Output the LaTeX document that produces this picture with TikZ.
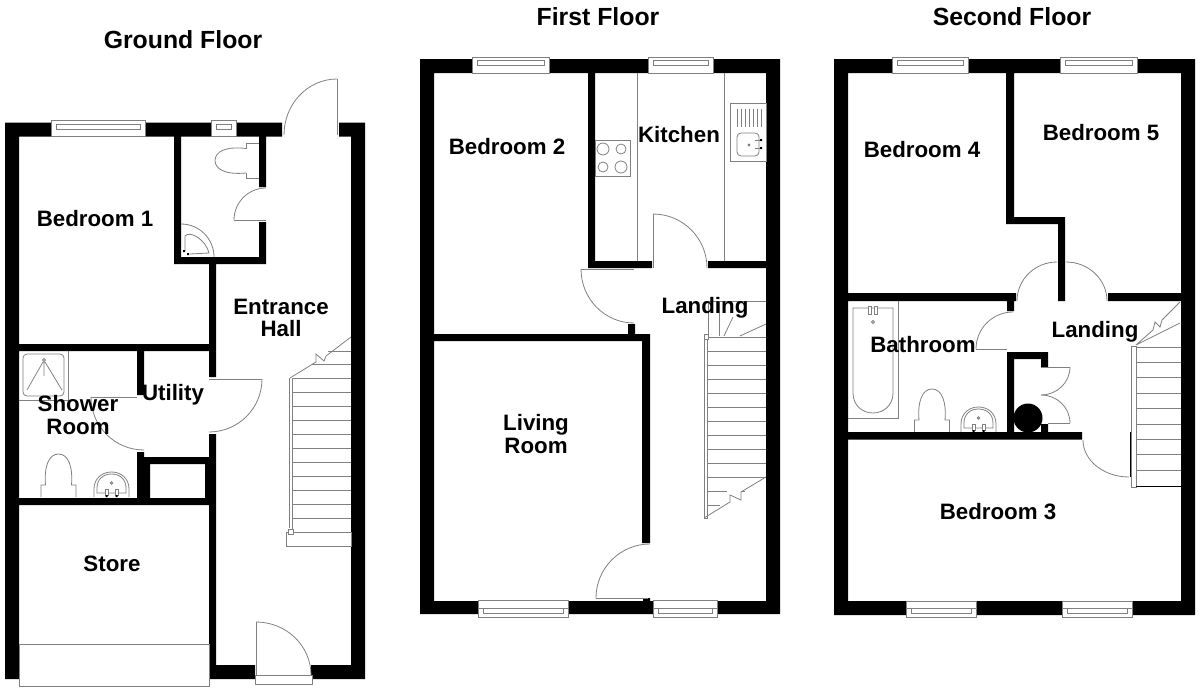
\documentclass[tikz,border=0pt]{standalone}
\usepackage{fontspec}
\setmainfont{Liberation Sans}
\usetikzlibrary{calc}

\tikzset{
  wall/.style={fill=black},
  fixture/.style={draw=black!50,line width=.8pt},
  glazing/.style={draw=black!50,line width=.8pt,fill=white},
  roomname/.style={font=\bfseries\fontsize{22.3}{22.5}\selectfont,align=center,inner sep=0pt},
  floorname/.style={font=\bfseries\fontsize{24.8}{26}\selectfont,inner sep=0pt}
}

\begin{document}
\begin{tikzpicture}[x=1pt,y=-1pt]
\useasboundingbox (0,0) rectangle (1200,688);
\def\swing(#1)(#2)(#3){\draw[fixture] (#1) .. controls ($(#1)!.5523!(#2)$) and ($(#3)!.5523!(#2)$) .. (#3);}
\def\casement#1#2#3#4#5{\draw[glazing] (#1,#3) rectangle (#2,#4);
  \draw[fixture] ($(#1,#5)+(5,0)$) rectangle ($(#2,#5)+(-5,5)$);}
\def\basin{\draw[fixture] (-17.5,0) -- (-17.5,-8) .. controls (-17.5,-19) and (-9,-25) .. (0,-25) .. controls (9,-25) and (17.5,-19) .. (17.5,-8) -- (17.5,0);
  \draw[fixture] (-14.5,-4) -- (-14.5,-9) .. controls (-14.5,-18) and (-8,-23) .. (0,-23) .. controls (8,-23) and (14.5,-18) .. (14.5,-9) -- (14.5,-4) -- cycle;
  \draw[fixture,fill=white] (-6.5,-8) rectangle (-3.5,-2) (3.5,-8) rectangle (6.5,-2);
  \fill (-6,-2) rectangle (-4,0) (4,-2) rectangle (6,0);
  \draw[fixture] (0,-14) circle (1.2);}
\def\closet{\draw[fixture] (-17.5,0) -- (-17.5,-12) -- (-13,-12) .. controls (-14.5,-30) and (-10,-43) .. (0,-43) .. controls (10,-43) and (14.5,-30) .. (13,-12) -- (17.5,-12) -- (17.5,0);}
\def\groundwalls{(5,122.7) rectangle (282,136.7) (339,122.7) rectangle (365,136.7)
  (5,122.7) rectangle (19,679) (351,122.7) rectangle (365,679)
  (216,665) rectangle (255,679) (311,665) rectangle (365,679)
  (174,136) rectangle (181,264) (174,257) rectangle (266,264)
  (259,136) rectangle (266,187) (259,222) rectangle (266,264)
  (209,264) rectangle (216,377) (209,434) rectangle (216,679)
  (19,344) rectangle (209,351) (137,351) rectangle (144,395)
  (137,452) rectangle (144,505) (137,464) rectangle (150,505) (144,457) rectangle (209,464)
  (205,457) rectangle (216,505) (19,498) rectangle (209,505)}
\def\firstwalls{(420,59) rectangle (780,73) (420,601) rectangle (780,614)
  (420,59) rectangle (434,614) (766,59) rectangle (780,614)
  (588,73) rectangle (595,268) (588,261) rectangle (652,268) (708,261) rectangle (766,268)
  (628,324) rectangle (635,334) (434,334) rectangle (650,341) (642,334) rectangle (650,543)
  (643,598) rectangle (650,601)}
\def\secondwalls{(834,59) rectangle (1195,73) (834,601) rectangle (1195,615)
  (834,59) rectangle (848,615) (1181,59) rectangle (1195,615)
  (1006,73) rectangle (1014,224) (1006,217) rectangle (1065,224) (1058,217) rectangle (1065,301)
  (848,293) rectangle (1016,301) (1108,293) rectangle (1181,301) (1007,301) rectangle (1014,311)
  (1007,352) rectangle (1014,433) (1007,352) rectangle (1048,359) (1041,352) rectangle (1048,367)
  (1041,424) rectangle (1048,433) (848,432) rectangle (1082,439.5)}

% ground floor
\fill[wall] \groundwalls;
\casement{51}{145}{120}{136.7}{124}
\casement{211}{236}{120}{136.7}{124}
\draw[fixture] (337,79) -- (337,135); \swing(337,79)(284,79)(284,135)
\draw[fixture] (234,220) -- (266,220); \swing(234,220)(234,188)(266,188)
\draw[fixture] (209,379) -- (262,379); \swing(262,379)(262,432)(209,432)
\draw[fixture] (91,397) -- (137,397); \swing(91,397)(91,450)(144,450)
\draw[fixture] (256,675) -- (256,622); \swing(256,622)(311,622)(311,675)
\draw[glazing] (255,675) rectangle (312,684);
\draw[fixture] (19,644) rectangle (209,686);
\draw[fixture] (259,143) -- (246,143) -- (246,149) (246,173) -- (246,178) -- (259,178);
\draw[fixture] (246,148.5) .. controls (225,146) and (215,152) .. (215,160.5) .. controls (215,169) and (225,175) .. (246,173);
\swing(181,224)(214,224)(214,257)
\draw[fixture] (185,251) -- (185,236) .. controls (190,230) and (206,240) .. (209,253) -- (190,254);
\fill (183,250) rectangle (185,252) (187,253) rectangle (189,255);
\draw[fixture] (19,400) -- (68,400) -- (68,351);
\draw[fixture,rounded corners=4pt] (23,354) rectangle (64,396);
\draw[fixture] (44,360) circle (1.5) (43,362) -- (27,390) (44,362) -- (44,376) (45,362) -- (62,390);
\begin{scope}[shift={(111.5,497)}] \basin \end{scope}
\begin{scope}[shift={(58.5,497)}] \closet \end{scope}
\foreach \y in {378,392,...,532} \draw[fixture] (292,\y) -- (351,\y);
\draw[fixture] (312,364) -- (351,364) (328,351) -- (351,351);
\draw[fixture] (289,378) -- (289,528) (292,378) -- (292,532);
\draw[fixture] (290,378) -- (316,362) -- (316,354) -- (324,361) -- (326,356) -- (351,337);
\draw[fixture] (286,532) rectangle (351,546);
\draw[glazing] (288,529) rectangle (293,534);

% first floor
\fill[wall] \firstwalls;
\casement{472}{549}{57}{73}{60}
\casement{648}{713}{57}{73}{60}
\casement{478}{568}{600.5}{617}{608}
\casement{653}{717}{600.5}{617}{608}
\draw[fixture] (478,608) -- (568,608) (653,608) -- (717,608);
\draw[fixture] (637,73) -- (637,261) (724,73) -- (724,261);
\draw[fixture] (653,268) -- (653,214); \swing(653,214)(707,214)(707,268)
\draw[fixture] (581,269) -- (634,269); \swing(581,269)(581,323)(634,323)
\draw[fixture] (596,598) -- (648,598); \swing(650,544)(596,544)(596,598)
\draw[fixture] (595,140) rectangle (630,176);
\draw[fixture] (603,149) circle (6) (621,149) circle (5) (603,167) circle (5) (621,167) circle (6);
\draw[fixture] (730,103) rectangle (766,161);
\foreach \x in {737,741,...,761} \draw[fixture] (\x,109) -- (\x,127);
\draw[fixture,rounded corners=4pt] (737,133) rectangle (759,156);
\draw[fixture] (749,145) circle (1);
\draw[fixture] (755,140) -- (761,140) (755,148) -- (761,148);
\fill (760,139) rectangle (762,141) (760,147) rectangle (762,149);
\draw[glazing] (704,335) rectangle (707,518);
\foreach \y in {337,351,...,477} \draw[fixture] (707,\y) -- (766,\y);
\draw[fixture] (707,491) -- (727,491) (741,491) -- (745,491) (707,505) -- (720,505);
\draw[fixture] (704,518) -- (730,502) -- (730,495) -- (741,500) -- (741,492) -- (766,477);
\draw[fixture] (708,301) -- (766,301) (708,301) -- (708,336) (719,301) -- (719,336);
\draw[fixture] (724,336) -- (733,317) (740,336) -- (766,324);
\draw[glazing] (704,334) rectangle (708,339);

% second floor
\fill[wall] \secondwalls;
\casement{892}{968}{57}{73}{60}
\casement{1060}{1137}{57}{73}{60}
\casement{906}{976}{601}{617}{608}
\casement{1062}{1132}{601}{617}{608}
\draw[fixture] (906,608) -- (976,608) (1062,608) -- (1132,608);
\swing(1057,262)(1017,262)(1017,301)
\swing(1066,262)(1107,262)(1107,301)
\draw[fixture] (976,349) -- (1007,349); \swing(1013,312)(976,312)(976,349)
\draw[fixture] (1041,367) -- (1070,367); \swing(1070,367)(1070,395)(1041,395)
\swing(1041,395)(1070,395)(1070,423)
\draw[fixture] (1048,423) -- (1070,423);
\swing(1083,440)(1083,477)(1129,477)
\fill (1028,418) circle (14.5);
\draw[fixture] (848,418) -- (898,418) -- (898,301);
\draw[fixture] (853,308) -- (893,308) -- (893,393) .. controls (893,405) and (884,413) .. (873,413) .. controls (862,413) and (853,405) .. (853,393) -- cycle;
\draw[fixture,fill=white] (868.5,306) rectangle (871.5,314) (874,306) rectangle (877,314);
\draw[fixture] (873,322) circle (1.5);
\begin{scope}[shift={(978.5,432)}] \basin \end{scope}
\begin{scope}[shift={(932,432)}] \closet \end{scope}
\foreach \y in {347,362.4,...,471} \draw[fixture] (1136,\y) -- (1181,\y);
\draw[glazing] (1131,346) rectangle (1136,487);
\draw[line width=1pt] (1130,432) -- (1130,477) (1136,486) -- (1181,486);
\draw[fixture] (1136,345) -- (1153,330) -- (1155,322) -- (1160,327) -- (1162,320) -- (1180,302) (1136,345) -- (1180,323);

% labels
\node[floorname] (groundtitle) at (183,40) {Ground Floor};
\node[floorname] (firsttitle) at (598,17) {First Floor};
\node[floorname] (secondtitle) at (1012,17) {Second Floor};
\node[roomname] (bedone) at (95,219) {Bedroom 1};
\node[roomname] (hall) at (281,318) {Entrance\\Hall};
\node[roomname] (utility) at (173,395) {Utility};
\node[roomname] (shower) at (78,415) {Shower\\Room};
\node[roomname] (store) at (112,564) {Store};
\node[roomname] (bedtwo) at (507,147) {Bedroom 2};
\node[roomname] (kitchen) at (679,135) {Kitchen};
\node[roomname] (landingone) at (705,308) {Landing};
\node[roomname] (living) at (536,434) {Living\\Room};
\node[roomname] (bedfour) at (922,150) {Bedroom 4};
\node[roomname] (bedfive) at (1101,133) {Bedroom 5};
\node[roomname] (landingtwo) at (1095,332) {Landing};
\node[roomname] (bathroom) at (923,345) {Bathroom};
\node[roomname] (bedthree) at (998,512) {Bedroom 3};
\end{tikzpicture}
\end{document}
